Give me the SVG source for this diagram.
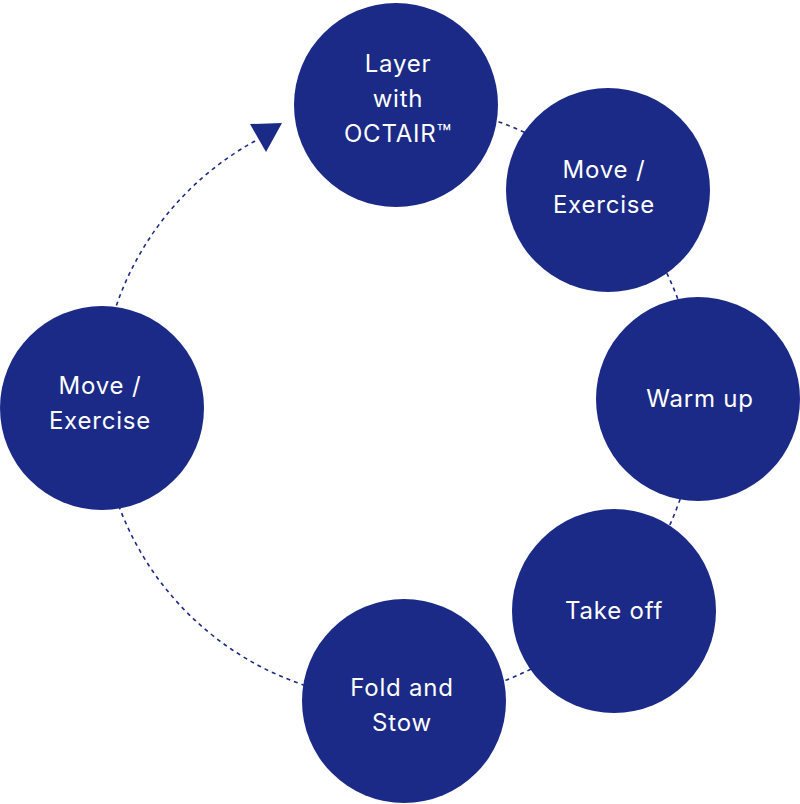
<svg xmlns="http://www.w3.org/2000/svg" width="800" height="804" viewBox="0 0 800 804">
<style>
.n{fill:#1b2a86}
.t{fill:#fff;font-family:Inter,sans-serif;font-size:24px;letter-spacing:0.8px;text-anchor:middle}
.c{fill:none;stroke:#1b2a86;stroke-width:1.6;stroke-dasharray:4 4}
</style>
<rect width="800" height="804" fill="#fff"/>
<g id="connectors">
<path class="c" d="M255,141 A298,298 0 1 0 430,106"/>
<polygon fill="#1b2a86" points="282,123 250,124 266,152"/>
</g>
<g id="n1"><circle class="n" cx="396" cy="105" r="102"/><text class="t" x="398" y="72">Layer</text><text class="t" x="398" y="107">with</text><text class="t" x="398" y="142">OCTAIR™</text></g>
<g id="n2"><circle class="n" cx="608" cy="190" r="102"/><text class="t" x="604" y="178">Move /</text><text class="t" x="604" y="213">Exercise</text></g>
<g id="n3"><circle class="n" cx="698" cy="399" r="102"/><text class="t" x="700" y="407">Warm up</text></g>
<g id="n4"><circle class="n" cx="614" cy="611" r="102"/><text class="t" x="614" y="619">Take off</text></g>
<g id="n5"><circle class="n" cx="404" cy="701" r="102"/><text class="t" x="402" y="696">Fold and</text><text class="t" x="402" y="731">Stow</text></g>
<g id="n6"><circle class="n" cx="102" cy="408" r="102"/><text class="t" x="100" y="394">Move /</text><text class="t" x="100" y="429">Exercise</text></g>
</svg>
